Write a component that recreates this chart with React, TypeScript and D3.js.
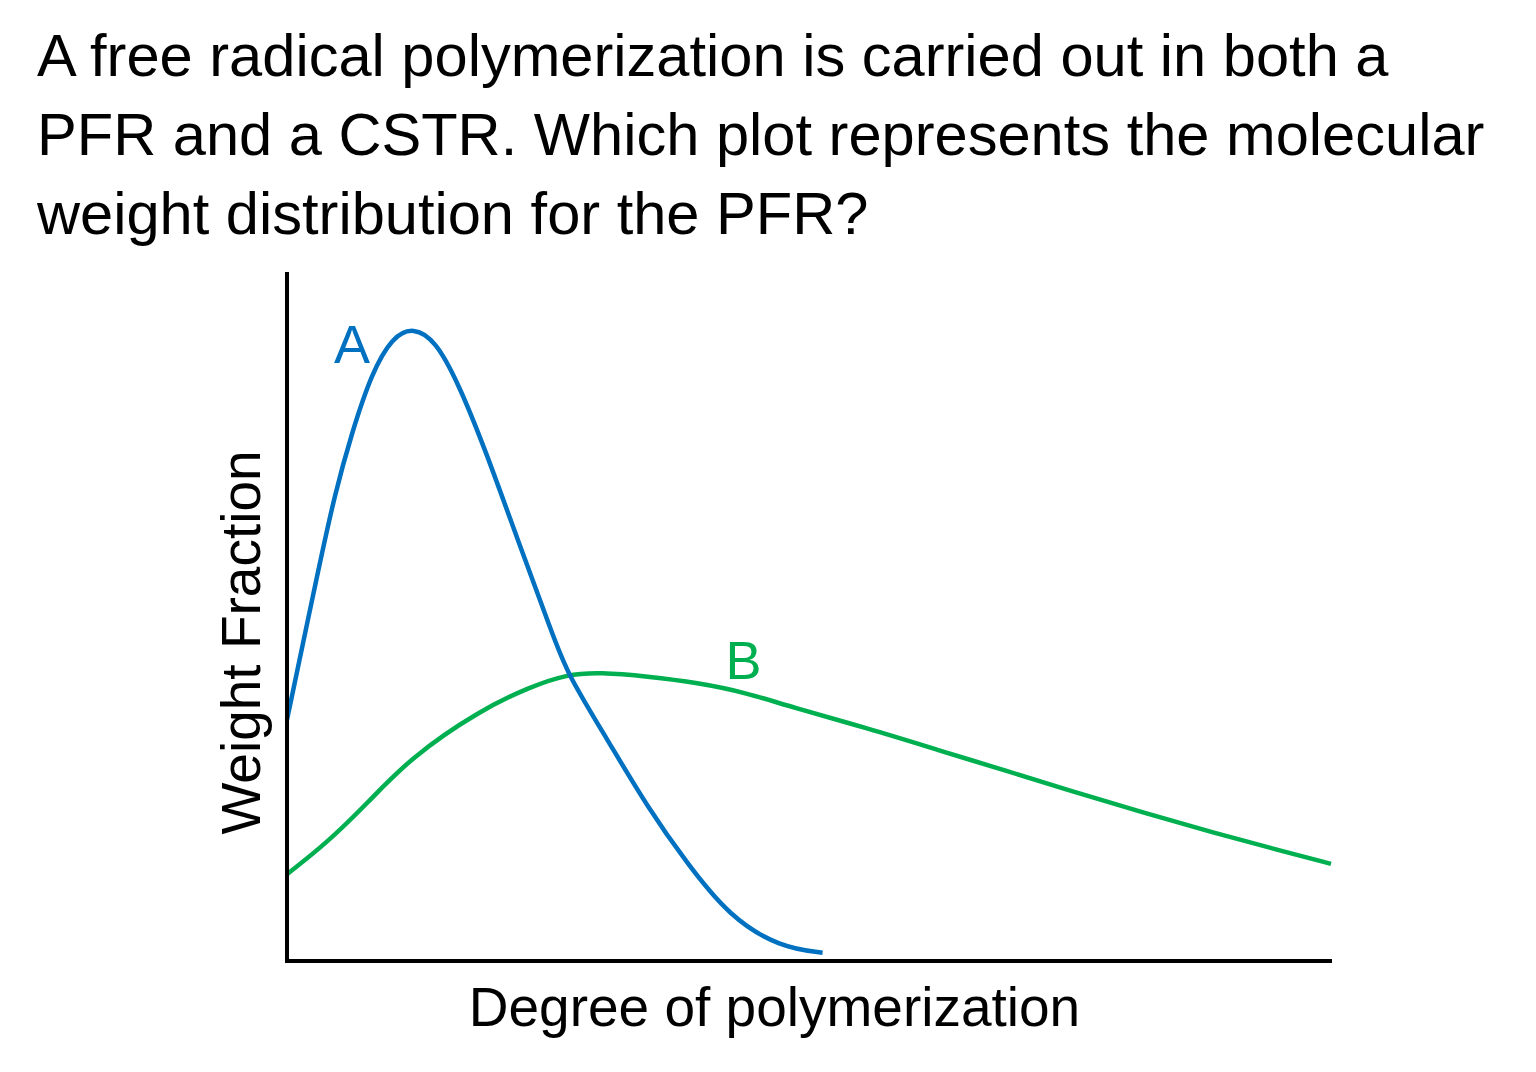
import React from "react";
import * as d3 from "d3";

const titleLines: string[] = [
  "A free radical polymerization is carried out in both a",
  "PFR and a CSTR. Which plot represents the molecular",
  "weight distribution for the PFR?",
];
const xAxisLabel = "Degree of polymerization";
const yAxisLabel = "Weight Fraction";

// Curve A (blue)
const seriesAX: number[] = [0, 3.0, 4.6, 6.2, 8.1, 10.1, 12.1, 14.2, 16.4, 19.0, 22.1, 25.4, 26.8, 30.7, 34.5, 38.3, 42.4, 47.2, 51.3];
const seriesAY: number[] = [35.0, 56.8, 67.9, 76.6, 85.3, 90.6, 92.0, 90.1, 83.9, 74.2, 61.1, 47.6, 41.8, 32.1, 22.4, 14.2, 6.4, 2.0, 1.2];
// Curve B (green)
const seriesBX: number[] = [0, 3.8, 7.7, 11.8, 18.5, 23.3, 26.8, 30.0, 34.5, 39.3, 44.1, 48.2, 55.8, 62.4, 68.9, 75.5, 82.1, 88.6, 95.2, 100];
const seriesBY: number[] = [12.6, 17.1, 22.9, 29.5, 36.4, 39.8, 41.6, 41.9, 41.3, 40.4, 38.9, 36.9, 33.7, 30.6, 27.6, 24.5, 21.5, 18.7, 16.0, 14.1];

const seriesLabels = [
  { name: "A", x: 4.5, y: 86.8, color: "#0070C0" },
  { name: "B", x: 42.0, y: 41.0, color: "#00B050" },
];

export default function App() {
  const W = 1536;
  const H = 1072;
  const x = d3.scaleLinear().domain([0, 100]).range([287, 1331]);
  const y = d3.scaleLinear().domain([0, 100]).range([961, 272]);

  const line = d3
    .line<[number, number]>()
    .x((d) => x(d[0]))
    .y((d) => y(d[1]))
    .curve(d3.curveBasis);

  const dataA: [number, number][] = seriesAX.map((v, i) => [v, seriesAY[i]]);
  const dataB: [number, number][] = seriesBX.map((v, i) => [v, seriesBY[i]]);

  const font = "'Liberation Sans', Arial, Helvetica, sans-serif";

  return (
    <div style={{ position: "absolute", left: 0, top: 0 }}>
      <svg width={W} height={H} style={{ display: "block", background: "#fff" }}>
        <rect x={0} y={0} width={W} height={H} fill="#fff" />
        {titleLines.map((t, i) => (
          <text key={i} x={37} y={76 + i * 79} fontFamily={font} fontSize={59.6} fill="#000">
            {t}
          </text>
        ))}
        <path d={line(dataB) || ""} fill="none" stroke="#00B050" strokeWidth={4.5} />
        <path d={line(dataA) || ""} fill="none" stroke="#0070C0" strokeWidth={4.5} />
        <line x1={x(0)} x2={x(0)} y1={272} y2={963} stroke="#000" strokeWidth={4} />
        <line x1={x(0) - 2} x2={x(100) + 1} y1={y(0)} y2={y(0)} stroke="#000" strokeWidth={4} />
        {seriesLabels.map((s) => (
          <text key={s.name} x={x(s.x)} y={y(s.y)} fontFamily={font} fontSize={54} fill={s.color}>
            {s.name}
          </text>
        ))}
        <text x={774.5} y={1026} textAnchor="middle" fontFamily={font} fontSize={55} fill="#000">
          {xAxisLabel}
        </text>
        <text
          transform={`translate(260,642.5) rotate(-90)`}
          textAnchor="middle"
          fontFamily={font}
          fontSize={55}
          fill="#000"
        >
          {yAxisLabel}
        </text>
      </svg>
    </div>
  );
}
